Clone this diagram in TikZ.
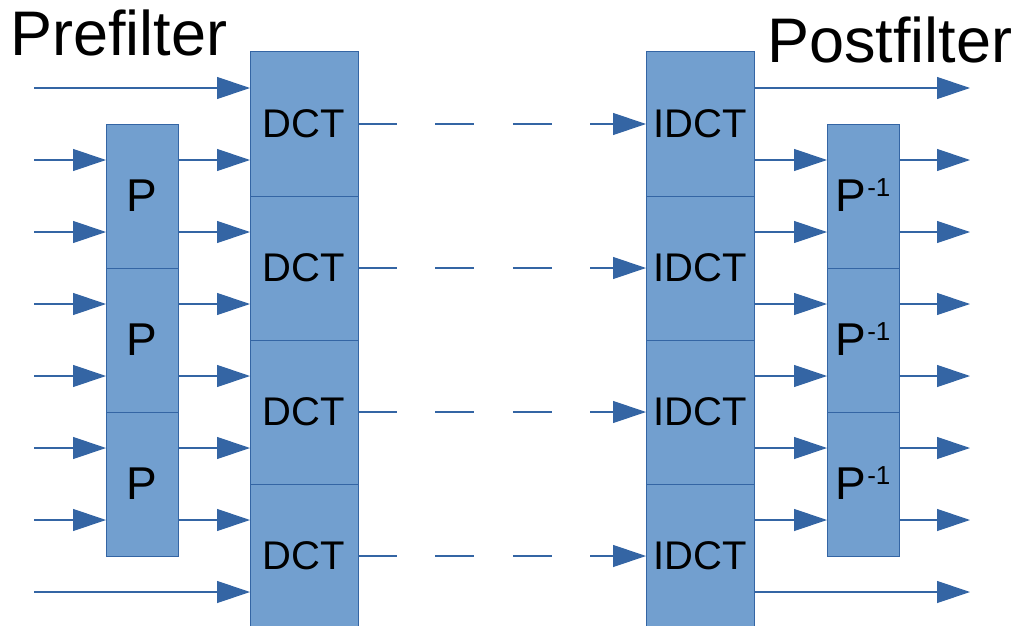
\documentclass[tikz,border=0pt]{standalone}
\usepackage{fontspec}
\setmainfont[Ligatures=CommonOff]{Liberation Sans}
\usetikzlibrary{arrows.meta}
\definecolor{boxfill}{HTML}{729FCF}
\definecolor{boxline}{HTML}{3465A4}
\newcommand{\supsize}{\fontsize{26}{26}\selectfont}
\begin{document}
\begin{tikzpicture}[x=1pt,y=-1pt,
  blk/.style={draw=boxline, fill=boxfill, line width=1pt, inner sep=0pt, outer sep=0pt},
  dctbox/.style={blk, minimum width=108pt, minimum height=144pt, font=\fontsize{40}{40}\selectfont},
  pbox/.style={blk, minimum width=72pt, minimum height=144pt, font=\fontsize{46}{46}\selectfont},
  sig/.style={draw=boxline, line width=1.2pt, -{Triangle[length=33pt,width=22pt]}},
  link/.style={sig, dash pattern=on 38.7pt off 38.7pt},
  title/.style={anchor=base west, inner sep=0pt, font=\fontsize{63}{63}\selectfont}]
\useasboundingbox (0,0) rectangle (1017,626);
\clip (0,0) rectangle (1017,626);

% transform blocks
\foreach \k/\y in {1/124,2/268,3/412,4/556} {
  \node[dctbox] (d\k) at (304,\y) {DCT};
  \node[dctbox] (i\k) at (700,\y) {IDCT};
}
% pre- and post-filter blocks
\foreach \k/\y in {1/196,2/340,3/484} {
  \node[pbox] (p\k) at (142,\y) {P};
  \node[pbox] (q\k) at (863,\y) {P\kern1pt\smash{\raisebox{15pt}{\supsize -1}}};
}

% titles
\node[title] (pre) at (10,56) {Prefilter};
\node[title] (post) at (767,63) {Postfilter};

% inputs that bypass the prefilter
\coordinate (s88) at (34,88);
\coordinate (s592) at (34,592);
\draw[sig] (s88) -- (s88 -| d1.west);
\draw[sig] (s592) -- (s592 -| d4.west);

% inputs through the prefilter
\foreach \y/\p/\d in {160/p1/d1, 232/p1/d2, 304/p2/d2, 376/p2/d3, 448/p3/d3, 520/p3/d4} {
  \coordinate (s\y) at (34,\y);
  \draw[sig] (s\y) -- (s\y -| \p.west);
  \draw[sig] (s\y -| \p.east) -- (s\y -| \d.west);
}

% coefficient paths between DCT and IDCT
\foreach \k in {1,2,3,4} {
  \draw[link] (d\k.east) -- (i\k.west);
}

% outputs that bypass the postfilter
\coordinate (t88) at (970,88);
\coordinate (t592) at (970,592);
\draw[sig] (t88 -| i1.east) -- (t88);
\draw[sig] (t592 -| i4.east) -- (t592);

% outputs through the postfilter
\foreach \y/\q/\i in {160/q1/i1, 232/q1/i2, 304/q2/i2, 376/q2/i3, 448/q3/i3, 520/q3/i4} {
  \coordinate (t\y) at (970,\y);
  \draw[sig] (t\y -| \i.east) -- (t\y -| \q.west);
  \draw[sig] (t\y -| \q.east) -- (t\y);
}
\end{tikzpicture}
\end{document}
